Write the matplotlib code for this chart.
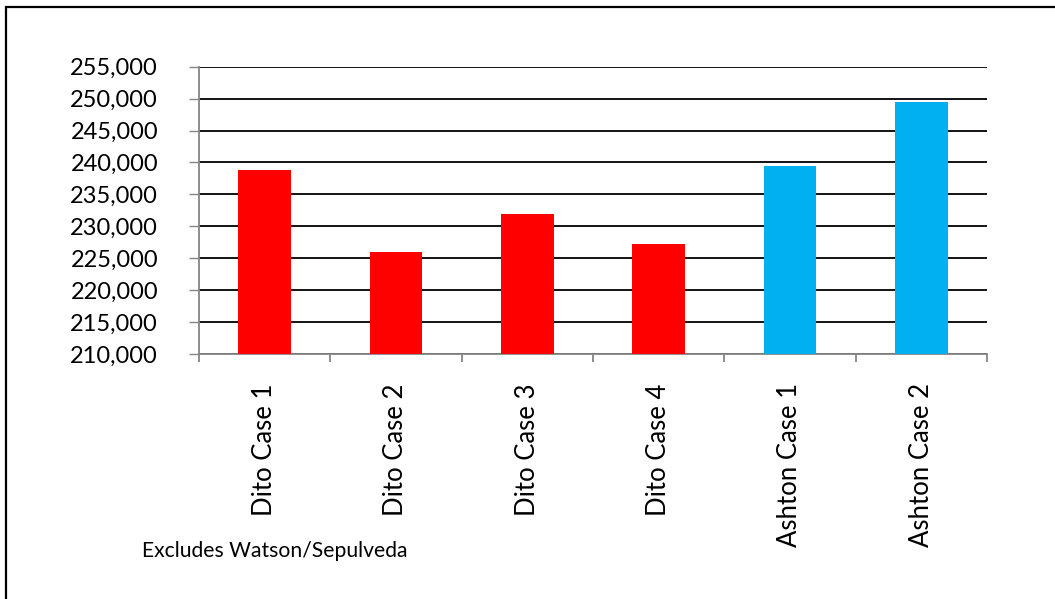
import numpy as np
import matplotlib.pyplot as plt
from matplotlib.patches import Rectangle
from matplotlib.ticker import FuncFormatter, MultipleLocator

plt.rcParams["font.family"] = ["Lato", "DejaVu Sans"]

cases = ["Dito Case 1", "Dito Case 2", "Dito Case 3", "Dito Case 4",
         "Ashton Case 1", "Ashton Case 2"]
values = [238800, 226000, 232000, 227300, 239500, 249500]
bar_colors = ["#FF0000", "#FF0000", "#FF0000", "#FF0000", "#00B0F0", "#00B0F0"]
note = "Excludes Watson/Sepulveda"

W, H = 1055, 599
fig = plt.figure(figsize=(W / 100, H / 100), dpi=100)

# outer chart border (cut off on right and bottom like the original)
fig.patches.append(Rectangle((6 / W, -0.1), 1.2, 1 - 7 / H + 0.1,
                             transform=fig.transFigure, fill=False,
                             edgecolor="black", linewidth=1.6))

ax = fig.add_axes([199 / W, 1 - 354 / H, (987 - 199) / W, (354 - 66.7) / H])

x = np.arange(len(cases))
ax.bar(x, values, width=0.4, color=bar_colors, zorder=3)

ax.set_xlim(-0.5, len(cases) - 0.5)
ax.set_ylim(210000, 255000)
ax.yaxis.set_major_locator(MultipleLocator(5000))
ax.yaxis.set_major_formatter(FuncFormatter(lambda v, p: f"{v:,.0f}"))
ax.grid(axis="y", color="black", linewidth=1.3, zorder=1)

for side in ["top", "right"]:
    ax.spines[side].set_visible(False)
for side in ["left", "bottom"]:
    ax.spines[side].set_color("#868686")
    ax.spines[side].set_linewidth(1.3)

ax.tick_params(axis="y", length=7.5, width=1, color="#868686",
               labelsize=17, pad=22)
ax.set_xticks(np.arange(len(cases) + 1) - 0.5)
ax.set_xticks(x, minor=True)
ax.set_xticklabels([])
ax.tick_params(axis="x", which="major", length=6, width=1.3, color="#868686")
ax.tick_params(axis="x", which="minor", length=0)
ax.set_xticklabels(cases, minor=True, rotation=90, fontsize=18.5)
ax.tick_params(axis="x", which="minor", pad=21)

fig.text(142 / W, 1 - 551 / H, note, fontsize=15.2, va="center", ha="left")

fig.savefig("out.png", dpi=100)
